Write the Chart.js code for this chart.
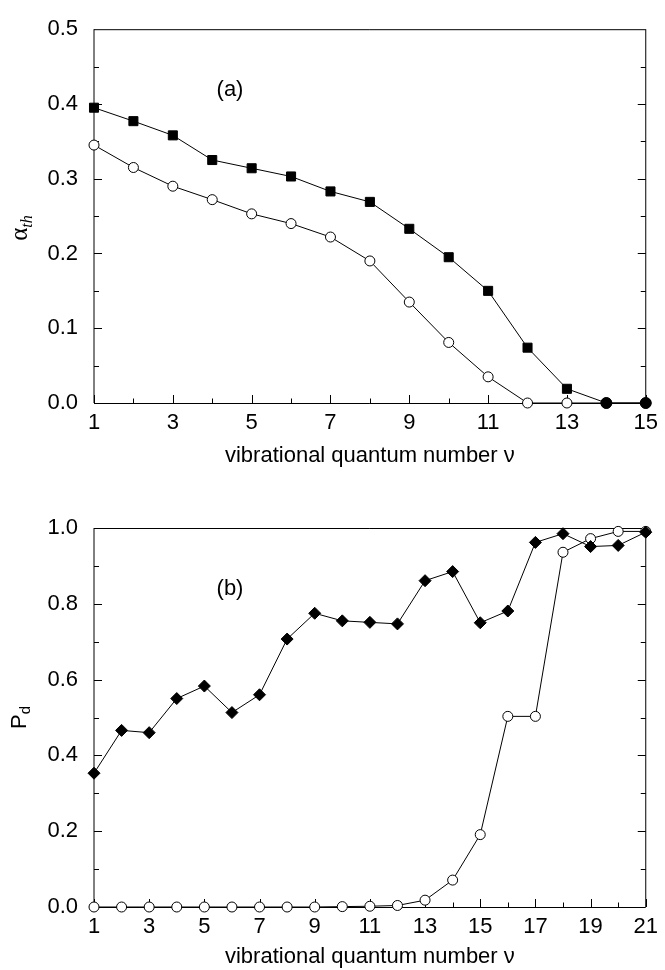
<!DOCTYPE html>
<html>
<head>
<meta charset="utf-8">
<title>Threshold and dissociation vs vibrational level</title>
<script src="https://cdn.jsdelivr.net/npm/chart.js@4.4.1/dist/chart.umd.min.js"></script>
<style>
  html, body { margin: 0; padding: 0; background: #fff; }
  #wrap { position: relative; width: 665px; height: 970px; overflow: hidden; }
  canvas { position: absolute; left: 0; }
</style>
</head>
<body>
<div id="wrap">
  <canvas id="chartA" width="665" height="480" style="top:0px"></canvas>
  <canvas id="chartB" width="665" height="490" style="top:480px"></canvas>
</div>
<script>
// panel (a): threshold alpha per vibrational level
const levelsA = [1, 2, 3, 4, 5, 6, 7, 8, 9, 10, 11, 12, 13, 14, 15];
const alphaSquares = [0.395, 0.377, 0.358, 0.325, 0.314, 0.303, 0.283, 0.269, 0.233, 0.195, 0.150, 0.074, 0.019, 0, 0];
const alphaCircles = [0.345, 0.315, 0.290, 0.272, 0.253, 0.240, 0.222, 0.190, 0.135, 0.081, 0.035, 0, 0, 0, 0];
const xTicksA = [1, 3, 5, 7, 9, 11, 13, 15];
const yTicksA = [0, 0.1, 0.2, 0.3, 0.4, 0.5];

// panel (b): dissociation probability per vibrational level
const levelsB = [1, 2, 3, 4, 5, 6, 7, 8, 9, 10, 11, 12, 13, 14, 15, 16, 17, 18, 19, 20, 21];
const pdDiamonds = [0.353, 0.466, 0.460, 0.550, 0.583, 0.513, 0.560, 0.707, 0.775, 0.755, 0.751, 0.747,
                    0.861, 0.885, 0.750, 0.781, 0.962, 0.985, 0.951, 0.954, 0.989];
const pdCircles = [0, 0, 0, 0, 0, 0, 0, 0, 0, 0.001, 0.002, 0.004,
                   0.018, 0.071, 0.191, 0.503, 0.503, 0.936, 0.972, 0.991, 0.991];
const xTicksB = [1, 3, 5, 7, 9, 11, 13, 15, 17, 19, 21];
const yTicksB = [0, 0.2, 0.4, 0.6, 0.8, 1.0];

const FONT = "'Liberation Sans', Arial, Helvetica, sans-serif";
const SERIF = "'Liberation Serif', 'Times New Roman', serif";
const TEXT_SIZE = 22;

function pairs(xs, ys) {
  return xs.map((v, i) => ({ x: v, y: ys[i] }));
}

// frame with inward ticks, drawn under the markers
const frameTicks = {
  id: 'frameTicks',
  beforeDatasetsDraw(chart, args, o) {
    const { ctx, chartArea: a, scales: { x, y } } = chart;
    ctx.save();
    ctx.strokeStyle = '#000';
    ctx.lineWidth = 1;
    ctx.beginPath();
    ctx.moveTo(a.left, a.top + 0.5); ctx.lineTo(a.right, a.top + 0.5);
    ctx.moveTo(a.left, a.bottom + 0.5); ctx.lineTo(a.right, a.bottom + 0.5);
    ctx.moveTo(a.left, a.top); ctx.lineTo(a.left, a.bottom);
    ctx.moveTo(a.right, a.top); ctx.lineTo(a.right, a.bottom);
    ctx.stroke();

    ctx.beginPath();
    for (let v = x.min; v <= x.max + 1e-9; v += o.xStep) {
      const px = Math.round(x.getPixelForValue(v)) + 0.5;
      const len = o.xMajor.includes(v) ? 8 : 4.5;
      ctx.moveTo(px, a.bottom);
      ctx.lineTo(px, a.bottom - len);
    }
    const n = Math.round((y.max - y.min) / o.yStep);
    for (let i = 1; i < n; i++) {
      const py = Math.round(y.getPixelForValue(y.min + i * o.yStep)) + 0.5;
      const len = i % 2 === 0 ? 8 : 5;
      ctx.moveTo(a.left, py); ctx.lineTo(a.left + len, py);
      ctx.moveTo(a.right, py); ctx.lineTo(a.right - len, py);
    }
    ctx.stroke();
    ctx.restore();
  },
  afterDraw(chart, args, o) {
    const { ctx, chartArea: a } = chart;
    ctx.save();
    ctx.fillStyle = '#000';
    // panel tag
    ctx.font = TEXT_SIZE + 'px ' + FONT;
    ctx.textAlign = 'center';
    ctx.textBaseline = 'middle';
    ctx.fillText(o.tag, a.left + 136, a.top + 61);

    // rotated y title with subscript
    const cy = (a.top + a.bottom) / 2 + o.titleShift;
    ctx.translate(o.titleX, cy);
    ctx.rotate(-Math.PI / 2);
    ctx.textAlign = 'left';
    ctx.textBaseline = 'alphabetic';
    ctx.font = o.mainFont;
    const w1 = ctx.measureText(o.main).width;
    ctx.font = o.subFont;
    const w2 = ctx.measureText(o.sub).width;
    const x0 = -(w1 + w2) / 2;
    ctx.font = o.mainFont;
    ctx.fillText(o.main, x0, 0);
    ctx.font = o.subFont;
    ctx.fillText(o.sub, x0 + w1, o.subDrop);
    ctx.restore();
  }
};

function makeChart(id, cfg) {
  return new Chart(document.getElementById(id), {
    type: 'line',
    data: { datasets: cfg.datasets },
    options: {
      responsive: false,
      animation: false,
      events: [],
      layout: { padding: cfg.padding, autoPadding: false },
      elements: { line: { borderColor: '#000', borderWidth: 1, tension: 0 } },
      plugins: {
        legend: { display: false },
        tooltip: { enabled: false },
        frameTicks: cfg.frame
      },
      scales: {
        x: {
          type: 'linear',
          min: cfg.xMin, max: cfg.xMax,
          afterBuildTicks: s => { s.ticks = cfg.xTicks.map(v => ({ value: v })); },
          afterFit: s => { s.height = cfg.xHeight; },
          grid: { display: false, drawTicks: false },
          border: { display: false },
          ticks: { color: '#000', padding: 7, maxRotation: 0, autoSkip: false, font: { family: FONT, size: TEXT_SIZE } },
          title: {
            display: true,
            text: 'vibrational quantum number ν',
            color: '#000',
            font: { family: FONT, size: TEXT_SIZE },
            padding: { top: 0, bottom: 0 }
          }
        },
        y: {
          min: cfg.yMin, max: cfg.yMax,
          afterBuildTicks: s => { s.ticks = cfg.yTicks.map(v => ({ value: v })); },
          afterFit: s => { s.width = 94; },
          grid: { display: false, drawTicks: false },
          border: { display: false },
          ticks: {
            color: '#000', padding: 16,
            font: { family: FONT, size: TEXT_SIZE },
            callback: v => Number(v).toFixed(1)
          }
        }
      }
    },
    plugins: [frameTicks]
  });
}

makeChart('chartA', {
  padding: { left: 0, right: 12, top: 24, bottom: 11 },
  xHeight: 66,
  xMin: 1, xMax: 15, xTicks: xTicksA,
  yMin: 0, yMax: 0.5, yTicks: yTicksA,
  frame: {
    xStep: 1, xMajor: xTicksA, yStep: 0.05, tag: '(a)',
    titleX: 27, titleShift: 12,
    main: 'α', mainFont: '25px ' + SERIF,
    sub: 'th', subFont: 'italic 16px ' + SERIF, subDrop: 5
  },
  datasets: [
    {
      data: pairs(levelsA, alphaSquares),
      clip: false,
      pointStyle: c => (c.raw && c.raw.y === 0 ? 'circle' : 'rect'),
      pointRadius: c => (c.raw && c.raw.y === 0 ? 5.5 : 6.4),
      pointBackgroundColor: '#000',
      pointBorderColor: '#000',
      pointBorderWidth: 1
    },
    {
      data: pairs(levelsA, alphaCircles),
      clip: false,
      pointStyle: 'circle',
      pointRadius: 5,
      pointBackgroundColor: '#fff',
      pointBorderColor: '#000',
      pointBorderWidth: 1
    }
  ]
});

makeChart('chartB', {
  padding: { left: 0, right: 12, top: 48, bottom: 0 },
  xHeight: 63,
  xMin: 1, xMax: 21, xTicks: xTicksB,
  yMin: 0, yMax: 1, yTicks: yTicksB,
  frame: {
    xStep: 1, xMajor: xTicksB, yStep: 0.1, tag: '(b)',
    titleX: 26, titleShift: 0,
    main: 'P', mainFont: TEXT_SIZE + 'px ' + FONT,
    sub: 'd', subFont: '15px ' + FONT, subDrop: 4
  },
  datasets: [
    {
      data: pairs(levelsB, pdDiamonds),
      clip: false,
      pointStyle: 'rectRot',
      pointRadius: 6,
      pointBackgroundColor: '#000',
      pointBorderColor: '#000',
      pointBorderWidth: 1
    },
    {
      data: pairs(levelsB, pdCircles),
      clip: false,
      pointStyle: 'circle',
      pointRadius: 5,
      pointBackgroundColor: '#fff',
      pointBorderColor: '#000',
      pointBorderWidth: 1
    }
  ]
});
</script>
</body>
</html>
